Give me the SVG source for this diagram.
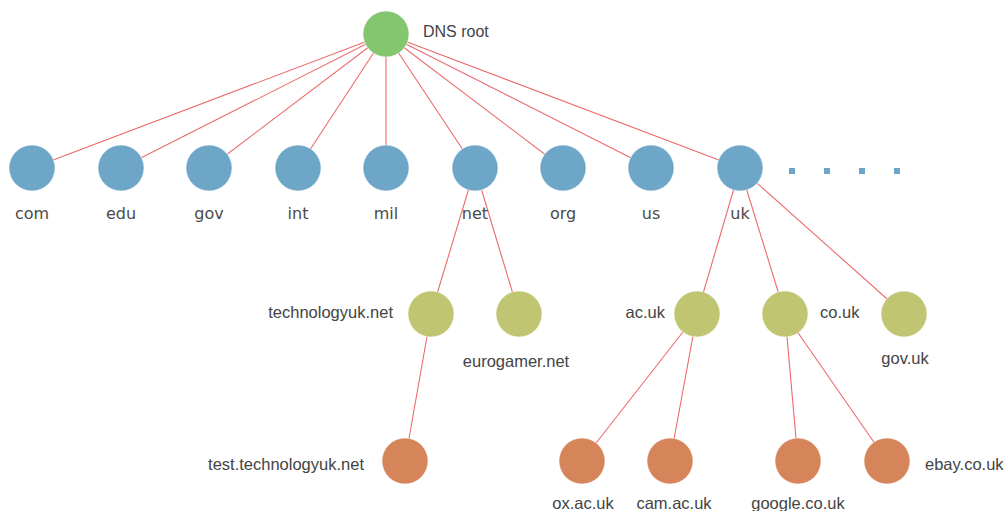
<svg xmlns="http://www.w3.org/2000/svg" width="1006" height="511" viewBox="0 0 1006 511">
<style>
.e{stroke:#ec6a6c;stroke-width:1.1;fill:none}
.r{fill:#84c56f}
.b{fill:#6ea6c8}
.g{fill:#bfc570}
.o{fill:#d6845a}
circle{stroke:#fff;stroke-opacity:.5;stroke-width:1}
.t1{font-family:"DejaVu Sans",sans-serif;font-size:16px;fill:#4a4a4a;text-anchor:middle}
.t2{font-family:"Liberation Sans",Arial,sans-serif;font-size:16.5px;fill:#444}
.m{text-anchor:middle}
.end{text-anchor:end}
.dot{fill:#6ea6c8}
</style>
<rect width="1006" height="511" fill="#fff"/>
<g id="connectors">
<line class="e" x1="386" y1="34" x2="32" y2="168"/>
<line class="e" x1="386" y1="34" x2="121" y2="168"/>
<line class="e" x1="386" y1="34" x2="209" y2="168"/>
<line class="e" x1="386" y1="34" x2="298" y2="168"/>
<line class="e" x1="386" y1="34" x2="386" y2="168"/>
<line class="e" x1="386" y1="34" x2="475" y2="168"/>
<line class="e" x1="386" y1="34" x2="563" y2="168"/>
<line class="e" x1="386" y1="34" x2="651" y2="168"/>
<line class="e" x1="386" y1="34" x2="740" y2="168"/>
<line class="e" x1="475" y1="168" x2="431" y2="314"/>
<line class="e" x1="475" y1="168" x2="519" y2="314"/>
<line class="e" x1="740" y1="168" x2="697" y2="314"/>
<line class="e" x1="740" y1="168" x2="785" y2="314"/>
<line class="e" x1="740" y1="168" x2="904" y2="314"/>
<line class="e" x1="431" y1="314" x2="405" y2="461"/>
<line class="e" x1="697" y1="314" x2="582" y2="461"/>
<line class="e" x1="697" y1="314" x2="670" y2="461"/>
<line class="e" x1="785" y1="314" x2="798" y2="461"/>
<line class="e" x1="785" y1="314" x2="887" y2="461"/>
</g>
<g id="root"><circle class="r" cx="386" cy="34" r="23"/><text class="t2" x="423" y="37" style="font-size:16px">DNS root</text></g>
<g id="com"><circle class="b" cx="32" cy="168" r="23"/><text class="t1" x="32" y="219">com</text></g>
<g id="edu"><circle class="b" cx="121" cy="168" r="23"/><text class="t1" x="121" y="219">edu</text></g>
<g id="gov"><circle class="b" cx="209" cy="168" r="23"/><text class="t1" x="209" y="219">gov</text></g>
<g id="int"><circle class="b" cx="298" cy="168" r="23"/><text class="t1" x="298" y="219">int</text></g>
<g id="mil"><circle class="b" cx="386" cy="168" r="23"/><text class="t1" x="386" y="219">mil</text></g>
<g id="net"><circle class="b" cx="475" cy="168" r="23"/><text class="t1" x="475" y="219">net</text></g>
<g id="org"><circle class="b" cx="563" cy="168" r="23"/><text class="t1" x="563" y="219">org</text></g>
<g id="us"><circle class="b" cx="651" cy="168" r="23"/><text class="t1" x="651" y="219">us</text></g>
<g id="uk"><circle class="b" cx="740" cy="168" r="23"/><text class="t1" x="740" y="219">uk</text></g>
<g id="more">
<rect class="dot" x="789" y="168" width="6" height="6"/>
<rect class="dot" x="824" y="168" width="6" height="6"/>
<rect class="dot" x="859" y="168" width="6" height="6"/>
<rect class="dot" x="894" y="168" width="6" height="6"/>
</g>
<g id="technologyuk"><circle class="g" cx="431" cy="314" r="23"/><text class="t2 end" x="393" y="318">technologyuk.net</text></g>
<g id="eurogamer"><circle class="g" cx="519" cy="314" r="23"/><text class="t2 m" x="516" y="367">eurogamer.net</text></g>
<g id="ac_uk"><circle class="g" cx="697" cy="314" r="23"/><text class="t2 end" x="665" y="318">ac.uk</text></g>
<g id="co_uk"><circle class="g" cx="785" cy="314" r="23"/><text class="t2" x="820" y="318">co.uk</text></g>
<g id="gov_uk"><circle class="g" cx="904" cy="314" r="23"/><text class="t2 m" x="905" y="364">gov.uk</text></g>
<g id="test"><circle class="o" cx="405" cy="461" r="23"/><text class="t2 end" x="364" y="470">test.technologyuk.net</text></g>
<g id="ox"><circle class="o" cx="582" cy="461" r="23"/><text class="t2 m" x="583" y="509">ox.ac.uk</text></g>
<g id="cam"><circle class="o" cx="670" cy="461" r="23"/><text class="t2 m" x="674" y="509">cam.ac.uk</text></g>
<g id="google"><circle class="o" cx="798" cy="461" r="23"/><text class="t2 m" x="798" y="509">google.co.uk</text></g>
<g id="ebay"><circle class="o" cx="887" cy="461" r="23"/><text class="t2" x="925" y="470">ebay.co.uk</text></g>
</svg>
